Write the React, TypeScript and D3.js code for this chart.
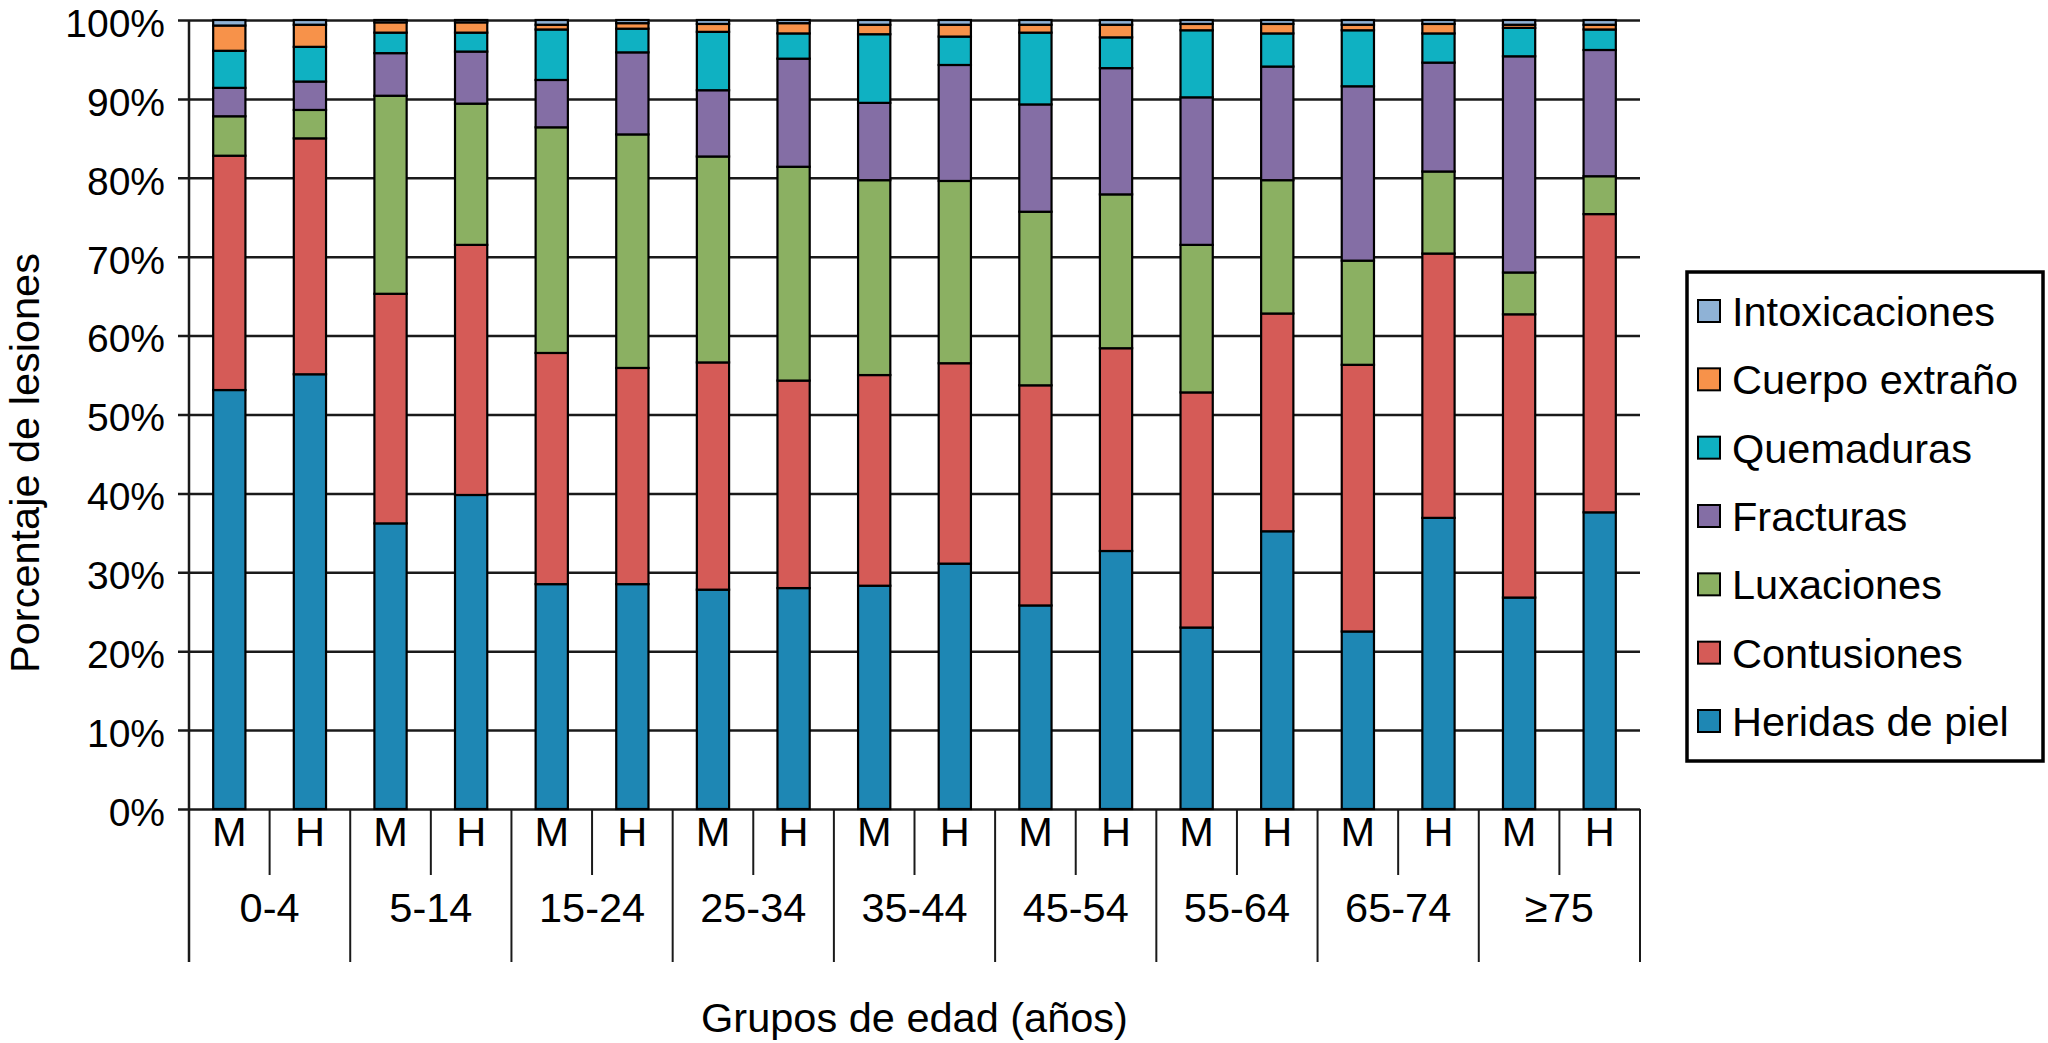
import * as d3 from 'd3';
import { useRef, useEffect } from 'react';

// age groups and sexes along the x axis
const ageGroups = ['0-4', '5-14', '15-24', '25-34', '35-44', '45-54', '55-64', '65-74', '≥75'];
const sexes = ['M', 'H'];

// series, bottom to top of each stack
const seriesNames = ['Heridas de piel', 'Contusiones', 'Luxaciones', 'Fracturas', 'Quemaduras', 'Cuerpo extraño', 'Intoxicaciones'];
const seriesColors = ['#1e87b4', '#d55b57', '#8bb062', '#846ea5', '#0fb1c2', '#f7924a', '#8fb2d6'];

// percentages, order: 0-4 M, 0-4 H, 5-14 M, 5-14 H, ...
const heridas = [53.1, 55.1, 36.2, 39.8, 28.5, 28.5, 27.8, 28.0, 28.3, 31.1, 25.8, 32.7, 23.0, 35.2, 22.5, 36.9, 26.8, 37.6];
const contusiones = [29.7, 29.9, 29.1, 31.7, 29.3, 27.4, 28.8, 26.3, 26.7, 25.4, 27.9, 25.7, 29.8, 27.6, 33.8, 33.5, 35.9, 37.8];
const luxaciones = [5.0, 3.6, 25.1, 17.9, 28.6, 29.6, 26.1, 27.1, 24.7, 23.1, 22.0, 19.5, 18.7, 16.9, 13.2, 10.4, 5.3, 4.8];
const fracturas = [3.6, 3.6, 5.4, 6.6, 6.0, 10.4, 8.4, 13.7, 9.8, 14.7, 13.6, 16.0, 18.7, 14.4, 22.1, 13.8, 27.4, 16.0];
const quemaduras = [4.7, 4.4, 2.6, 2.4, 6.4, 3.0, 7.4, 3.2, 8.7, 3.6, 9.1, 3.9, 8.5, 4.2, 7.1, 3.7, 3.6, 2.6];
const cuerpoExtrano = [3.2, 2.8, 1.3, 1.3, 0.6, 0.7, 1.0, 1.3, 1.2, 1.5, 1.0, 1.6, 0.8, 1.2, 0.7, 1.2, 0.4, 0.6];
const intoxicaciones = [0.7, 0.6, 0.3, 0.3, 0.6, 0.4, 0.5, 0.4, 0.6, 0.6, 0.6, 0.6, 0.5, 0.5, 0.6, 0.5, 0.6, 0.6];

const yTicks = [0, 10, 20, 30, 40, 50, 60, 70, 80, 90, 100];

const seriesValues = [heridas, contusiones, luxaciones, fracturas, quemaduras, cuerpoExtrano, intoxicaciones];

interface Row {
  group: string;
  sex: string;
  [key: string]: string | number;
}

const rows: Row[] = [];
ageGroups.forEach((g, gi) => {
  sexes.forEach((s, si) => {
    const row: Row = { group: g, sex: s };
    seriesNames.forEach((name, k) => { row[name] = seriesValues[k][gi * 2 + si]; });
    rows.push(row);
  });
});

const width = 2048;
const height = 1043;
const font = '"Liberation Sans", Arial, Helvetica, sans-serif';
const fontSize = 41.5;

const StackedChart = () => {
  const ref = useRef<SVGSVGElement>(null);

  useEffect(() => {
    if (!ref.current) return;
    const svg = d3.select(ref.current);
    svg.selectAll('*').remove();

    const left = 189, right = 1640, top = 20, bottom = 809;

    const x0 = d3.scaleBand().domain(ageGroups).range([left, right]);
    const x1 = d3.scaleBand().domain(sexes).range([0, x0.bandwidth()]).paddingInner(0.6).paddingOuter(0.3);
    const y = d3.scaleLinear().domain([0, 100]).range([bottom, top]);

    // y axis with gridlines
    const yAxis = d3.axisLeft(y)
      .tickValues(yTicks)
      .tickSize(-(right - 178))
      .tickPadding(13)
      .tickFormat(d => `${d}%`);

    const gy = svg.append('g')
      .attr('transform', 'translate(178,0)')
      .call(yAxis);
    gy.select('.domain').remove();
    gy.selectAll('.tick line').attr('stroke', '#1a1a1a').attr('stroke-width', 2.5);
    gy.selectAll('.tick text')
      .attr('font-family', font)
      .attr('font-size', 39)
      .attr('fill', '#000')
      .attr('dy', '0.42em');

    // stacked bars
    const stack = d3.stack<Row>().keys(seriesNames).value((d, key) => d[key] as number);
    const layers = stack(rows);

    svg.append('g')
      .selectAll('g')
      .data(layers)
      .join('g')
      .attr('fill', (d, i) => seriesColors[i])
      .attr('stroke', '#000')
      .attr('stroke-width', 2.2)
      .selectAll('rect')
      .data(d => d)
      .join('rect')
      .attr('x', d => (x0(d.data.group) ?? 0) + (x1(d.data.sex) ?? 0))
      .attr('width', x1.bandwidth())
      .attr('y', d => y(d[1]))
      .attr('height', d => y(d[0]) - y(d[1]));

    // left axis line
    svg.append('line')
      .attr('x1', left).attr('x2', left)
      .attr('y1', top).attr('y2', 962)
      .attr('stroke', '#1a1a1a').attr('stroke-width', 2.5);

    // x axis categories: separators and labels
    const gx = svg.append('g').attr('font-family', font).attr('font-size', fontSize).attr('text-anchor', 'middle');

    gx.selectAll('line.group')
      .data(ageGroups.concat(['end']))
      .join('line')
      .attr('class', 'group')
      .attr('x1', (d, i) => left + i * x0.step())
      .attr('x2', (d, i) => left + i * x0.step())
      .attr('y1', bottom)
      .attr('y2', 962)
      .attr('stroke', '#1a1a1a')
      .attr('stroke-width', 2);

    gx.selectAll('line.sex')
      .data(ageGroups)
      .join('line')
      .attr('class', 'sex')
      .attr('x1', d => (x0(d) ?? 0) + x0.bandwidth() / 2)
      .attr('x2', d => (x0(d) ?? 0) + x0.bandwidth() / 2)
      .attr('y1', bottom)
      .attr('y2', 875)
      .attr('stroke', '#1a1a1a')
      .attr('stroke-width', 2);

    gx.selectAll('text.sex')
      .data(rows)
      .join('text')
      .attr('class', 'sex')
      .attr('x', d => (x0(d.group) ?? 0) + (x1(d.sex) ?? 0) + x1.bandwidth() / 2)
      .attr('y', 846)
      .text(d => d.sex);

    gx.selectAll('text.group')
      .data(ageGroups)
      .join('text')
      .attr('class', 'group')
      .attr('x', d => (x0(d) ?? 0) + x0.bandwidth() / 2)
      .attr('y', 922)
      .text(d => d);

    // axis titles
    svg.append('text')
      .attr('x', (left + right) / 2)
      .attr('y', 1032)
      .attr('text-anchor', 'middle')
      .attr('font-family', font)
      .attr('font-size', fontSize)
      .text('Grupos de edad (años)');

    svg.append('text')
      .attr('transform', 'translate(39,463) rotate(-90)')
      .attr('text-anchor', 'middle')
      .attr('font-family', font)
      .attr('font-size', fontSize)
      .text('Porcentaje de lesiones');

    // legend
    const legend = svg.append('g').attr('font-family', font).attr('font-size', fontSize);
    legend.append('rect')
      .attr('x', 1687).attr('y', 272)
      .attr('width', 356).attr('height', 489)
      .attr('fill', '#fff').attr('stroke', '#000').attr('stroke-width', 3.5);

    const legendItems = seriesNames.map((name, i) => ({ name, color: seriesColors[i] })).reverse();
    const ly = d3.scalePoint().domain(legendItems.map(d => d.name)).range([311, 721]);

    const item = legend.selectAll('g.item')
      .data(legendItems)
      .join('g')
      .attr('class', 'item')
      .attr('transform', d => `translate(0,${ly(d.name)})`);
    item.append('rect')
      .attr('x', 1698).attr('y', -11)
      .attr('width', 22).attr('height', 22)
      .attr('fill', d => d.color)
      .attr('stroke', '#000').attr('stroke-width', 2);
    item.append('text')
      .attr('x', 1732)
      .attr('dy', '0.36em')
      .text(d => d.name);
  }, []);

  return <svg ref={ref} width={width} height={height} style={{ position: 'absolute', left: 0, top: 0, background: '#fff' }}></svg>;
};

export default function App() {
  return <StackedChart />;
}
